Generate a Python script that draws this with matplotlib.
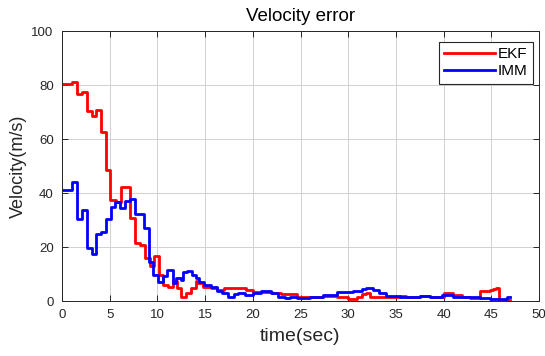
import matplotlib
matplotlib.use("Agg")
import matplotlib.pyplot as plt

# EKF velocity error: step start times (s) and values (m/s)
ekf_t = [0.0, 1.1, 1.6, 2.1, 2.6, 3.1, 3.6, 4.1, 4.6, 5.05, 5.7, 6.15, 7.13,
         7.65, 8.18, 8.7, 9.2, 9.65, 10.15, 10.6, 11.1, 11.6, 12.1, 12.45,
         13.0, 13.5, 14.0, 14.3, 14.8, 15.6, 16.2, 17.0, 19.3, 20.0, 22.0,
         23.0, 23.9, 24.6, 25.7, 27.4, 28.8, 30.0, 30.9, 31.4, 31.9, 32.3,
         34.4, 35.4, 36.1, 37.5, 38.6, 40.0, 41.0, 41.9, 42.8, 43.8, 44.9,
         45.2, 45.5, 45.8, 47.0]
ekf_v = [80.5, 81.0, 76.5, 77.5, 70.5, 68.5, 70.7, 62.5, 48.5, 37.4, 36.5,
         42.3, 30.6, 21.6, 20.7, 15.8, 13.0, 16.7, 9.5, 6.0, 5.3, 7.5, 4.8,
         1.6, 2.8, 4.7, 7.4, 6.5, 5.3, 4.7, 4.1, 4.7, 4.1, 3.5, 2.8, 2.6, 2.5,
         1.6, 1.5, 2.0, 1.6, 0.8, 1.6, 2.7, 3.0, 1.3, 1.4, 2.0, 1.4, 2.0, 1.4,
         2.8, 2.2, 1.4, 1.0, 3.7, 4.0, 4.4, 4.9, 0.4, 0.4]

# IMM velocity error: step start times (s) and values (m/s)
imm_t = [0.0, 1.1, 1.6, 2.1, 2.6, 3.1, 3.6, 4.1, 4.6, 5.1, 5.6, 6.1, 6.6,
         7.1, 7.6, 8.55, 9.1, 9.57, 10.1, 10.6, 11.0, 11.6, 12.0, 12.45,
         12.7, 13.1, 13.6, 14.0, 14.4, 14.9, 15.6, 16.2, 16.8, 17.4, 18.0,
         18.5, 19.2, 20.0, 20.9, 21.9, 22.6, 23.4, 23.9, 24.6, 26.0, 27.4,
         28.8, 29.5, 30.5, 31.4, 31.9, 32.6, 33.2, 34.0, 35.4, 36.5, 37.5,
         38.6, 39.8, 41.0, 42.2, 43.8, 44.9, 46.6, 47.0]
imm_v = [41.0, 44.2, 30.4, 33.7, 19.7, 17.5, 24.8, 25.7, 30.4, 34.7, 36.8,
         34.6, 37.1, 37.8, 32.1, 26.9, 14.6, 9.6, 7.0, 9.3, 11.5, 6.5, 8.4,
         7.8, 10.6, 11.1, 9.6, 8.4, 7.2, 5.9, 5.3, 3.7, 2.8, 1.6, 2.6, 2.8,
         2.2, 2.8, 3.7, 2.8, 1.6, 1.0, 1.6, 1.0, 1.4, 2.2, 3.4, 3.2, 3.7, 4.3,
         4.7, 4.1, 2.8, 2.0, 1.6, 1.4, 1.9, 1.6, 2.2, 1.6, 1.4, 1.0, 0.8, 1.6,
         1.6]

x_ticks = [0, 5, 10, 15, 20, 25, 30, 35, 40, 45, 50]
y_ticks = [0, 20, 40, 60, 80, 100]

plt.rcParams['font.family'] = ['Liberation Sans', 'DejaVu Sans']
axis_color = (0.15, 0.15, 0.15)

fig = plt.figure(figsize=(5.45, 3.56), dpi=100)
fig.patch.set_facecolor('white')
ax = fig.add_axes([62 / 545, 1 - 301 / 356, (539 - 62) / 545, (301 - 31) / 356])

ax.plot(ekf_t, ekf_v, drawstyle='steps-post', color='#ff0000', lw=2.0, label='EKF')
ax.plot(imm_t, imm_v, drawstyle='steps-post', color='#0000ff', lw=2.0, label='IMM')

ax.set_xlim(0, 50)
ax.set_ylim(0, 100)
ax.set_xticks(x_ticks)
ax.set_yticks(y_ticks)
ax.grid(True, color=(0.82, 0.82, 0.82), lw=0.7)
ax.set_axisbelow(True)
ax.tick_params(direction='in', length=4, width=0.7, colors=axis_color,
               labelsize=9.5, top=True, right=True, pad=6,
               labelcolor=axis_color)
for s in ax.spines.values():
    s.set_color(axis_color)
    s.set_linewidth(0.7)

ax.set_title('Velocity error', fontsize=13.5, color='black', pad=7)
ax.set_xlabel('time(sec)', fontsize=14, color=axis_color, labelpad=5)
ax.set_ylabel('Velocity(m/s)', fontsize=13, color=axis_color, labelpad=3)

leg = ax.legend(loc='upper right', fontsize=11, fancybox=False, framealpha=1,
                edgecolor=axis_color, borderpad=0.35, handlelength=3.3,
                handletextpad=0.2, labelspacing=0.2, borderaxespad=0,
                bbox_to_anchor=(0.987, 0.96))
leg.get_frame().set_linewidth(0.8)

fig.savefig('out.png', dpi=100, facecolor='white')
